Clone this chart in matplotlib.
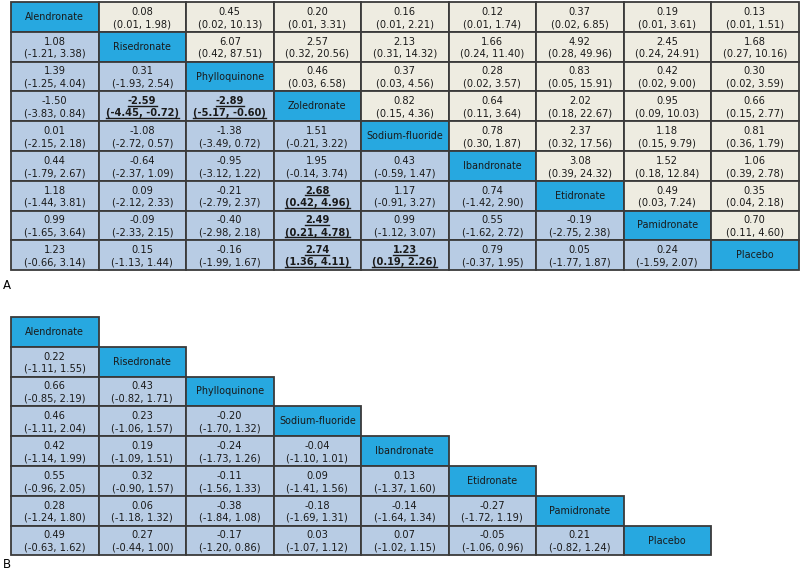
import numpy as np
import matplotlib.pyplot as plt

# treatment names
names_a = ["Alendronate", "Risedronate", "Phylloquinone", "Zoledronate", "Sodium-fluoride",
           "Ibandronate", "Etidronate", "Pamidronate", "Placebo"]
names_b = ["Alendronate", "Risedronate", "Phylloquinone", "Sodium-fluoride",
           "Ibandronate", "Etidronate", "Pamidronate", "Placebo"]

# panel A, lower triangle: (estimate, low, high) per row, columns 0..i-1
a_lower = [
    [],
    [(1.08, -1.21, 3.38)],
    [(1.39, -1.25, 4.04), (0.31, -1.93, 2.54)],
    [(-1.50, -3.83, 0.84), (-2.59, -4.45, -0.72), (-2.89, -5.17, -0.60)],
    [(0.01, -2.15, 2.18), (-1.08, -2.72, 0.57), (-1.38, -3.49, 0.72), (1.51, -0.21, 3.22)],
    [(0.44, -1.79, 2.67), (-0.64, -2.37, 1.09), (-0.95, -3.12, 1.22), (1.95, -0.14, 3.74),
     (0.43, -0.59, 1.47)],
    [(1.18, -1.44, 3.81), (0.09, -2.12, 2.33), (-0.21, -2.79, 2.37), (2.68, 0.42, 4.96),
     (1.17, -0.91, 3.27), (0.74, -1.42, 2.90)],
    [(0.99, -1.65, 3.64), (-0.09, -2.33, 2.15), (-0.40, -2.98, 2.18), (2.49, 0.21, 4.78),
     (0.99, -1.12, 3.07), (0.55, -1.62, 2.72), (-0.19, -2.75, 2.38)],
    [(1.23, -0.66, 3.14), (0.15, -1.13, 1.44), (-0.16, -1.99, 1.67), (2.74, 1.36, 4.11),
     (1.23, 0.19, 2.26), (0.79, -0.37, 1.95), (0.05, -1.77, 1.87), (0.24, -1.59, 2.07)],
]

# panel A, upper triangle: per row, columns i+1..8
a_upper = [
    [(0.08, 0.01, 1.98), (0.45, 0.02, 10.13), (0.20, 0.01, 3.31), (0.16, 0.01, 2.21),
     (0.12, 0.01, 1.74), (0.37, 0.02, 6.85), (0.19, 0.01, 3.61), (0.13, 0.01, 1.51)],
    [(6.07, 0.42, 87.51), (2.57, 0.32, 20.56), (2.13, 0.31, 14.32), (1.66, 0.24, 11.40),
     (4.92, 0.28, 49.96), (2.45, 0.24, 24.91), (1.68, 0.27, 10.16)],
    [(0.46, 0.03, 6.58), (0.37, 0.03, 4.56), (0.28, 0.02, 3.57), (0.83, 0.05, 15.91),
     (0.42, 0.02, 9.00), (0.30, 0.02, 3.59)],
    [(0.82, 0.15, 4.36), (0.64, 0.11, 3.64), (2.02, 0.18, 22.67), (0.95, 0.09, 10.03),
     (0.66, 0.15, 2.77)],
    [(0.78, 0.30, 1.87), (2.37, 0.32, 17.56), (1.18, 0.15, 9.79), (0.81, 0.36, 1.79)],
    [(3.08, 0.39, 24.32), (1.52, 0.18, 12.84), (1.06, 0.39, 2.78)],
    [(0.49, 0.03, 7.24), (0.35, 0.04, 2.18)],
    [(0.70, 0.11, 4.60)],
    [],
]

# significant cells (row, col) shown bold + underlined
a_signif = [(3, 1), (3, 2), (6, 3), (7, 3), (8, 3), (8, 4)]

# panel B, lower triangle
b_lower = [
    [],
    [(0.22, -1.11, 1.55)],
    [(0.66, -0.85, 2.19), (0.43, -0.82, 1.71)],
    [(0.46, -1.11, 2.04), (0.23, -1.06, 1.57), (-0.20, -1.70, 1.32)],
    [(0.42, -1.14, 1.99), (0.19, -1.09, 1.51), (-0.24, -1.73, 1.26), (-0.04, -1.10, 1.01)],
    [(0.55, -0.96, 2.05), (0.32, -0.90, 1.57), (-0.11, -1.56, 1.33), (0.09, -1.41, 1.56),
     (0.13, -1.37, 1.60)],
    [(0.28, -1.24, 1.80), (0.06, -1.18, 1.32), (-0.38, -1.84, 1.08), (-0.18, -1.69, 1.31),
     (-0.14, -1.64, 1.34), (-0.27, -1.72, 1.19)],
    [(0.49, -0.63, 1.62), (0.27, -0.44, 1.00), (-0.17, -1.20, 0.86), (0.03, -1.07, 1.12),
     (0.07, -1.02, 1.15), (-0.05, -1.06, 0.96), (0.21, -0.82, 1.24)],
]

DIAG = "#27a8e0"
LOWER = "#b8cce4"
UPPER = "#eeece1"
EDGE = "#3a3a3a"

fig = plt.figure(figsize=(8.0, 5.73), dpi=100)
ax = fig.add_axes([0, 0, 1, 1])
ax.set_xlim(0, 800)
ax.set_ylim(573, 0)
ax.axis("off")

cw, ch = 87.5, 29.8
underlined = []


def cell(x0, y0, color, lines, bold=False):
    ax.add_patch(plt.Rectangle((x0, y0), cw, ch, facecolor=color, edgecolor=EDGE, lw=1.3))
    cx = x0 + cw / 2
    if len(lines) == 1:
        ax.text(cx, y0 + ch / 2, lines[0], ha="center", va="center", fontsize=6.9, color="#1a1a1a")
        return
    est, lo, hi = lines
    w = "bold" if bold else "normal"
    t1 = ax.text(cx, y0 + ch * 0.33, f"{est:.2f}", ha="center", va="center",
                 fontsize=7.1, color="#1a1a1a", fontweight=w)
    t2 = ax.text(cx, y0 + ch * 0.74, f"({lo:.2f}, {hi:.2f})", ha="center", va="center",
                 fontsize=7.1, color="#1a1a1a", fontweight=w)
    if bold:
        underlined.extend([t1, t2])


# panel A
left, top = 11, 2
n = len(names_a)
for i in range(n):
    for j in range(n):
        x0, y0 = left + j * cw, top + i * ch
        if i == j:
            cell(x0, y0, DIAG, [names_a[i]])
        elif j < i:
            cell(x0, y0, LOWER, a_lower[i][j], bold=(i, j) in a_signif)
        else:
            cell(x0, y0, UPPER, a_upper[i][j - i - 1])
ax.text(3, top + n * ch + 15, "A", fontsize=8.5, va="center", ha="left")

# panel B
top_b = 317
for i in range(len(names_b)):
    for j in range(i + 1):
        x0, y0 = left + j * cw, top_b + i * ch
        if i == j:
            cell(x0, y0, DIAG, [names_b[i]])
        else:
            cell(x0, y0, LOWER, b_lower[i][j])
ax.text(3, top_b + len(names_b) * ch + 9, "B", fontsize=8.5, va="center", ha="left")

# underline the significant entries
fig.canvas.draw()
r = fig.canvas.get_renderer()
inv = ax.transData.inverted()
for t in underlined:
    bb = t.get_window_extent(r)
    (xa, ya), (xb, yb) = inv.transform([(bb.x0, bb.y0), (bb.x1, bb.y0)])
    ax.plot([xa, xb], [ya - 0.3, yb - 0.3], color="#1a1a1a", lw=1.0)

fig.savefig("out.png", dpi=100)
